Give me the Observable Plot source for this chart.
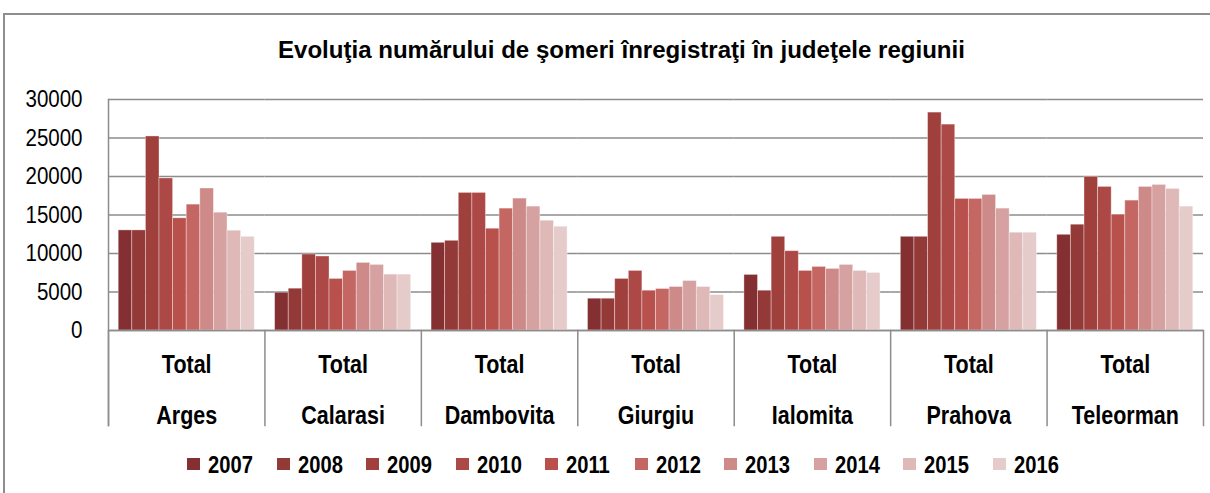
<!DOCTYPE html>
<html><head><meta charset="utf-8">
<script src="https://cdn.jsdelivr.net/npm/d3@7"></script>
<script src="https://cdn.jsdelivr.net/npm/@observablehq/plot@0.6"></script>
<style>
html,body{margin:0;padding:0;background:#fff;overflow:hidden;width:1210px;height:493px;}
body{position:relative;font-family:"Liberation Sans",Arial,sans-serif;color:#000;}
#frame{position:absolute;left:3px;top:13px;width:1220px;height:500px;border:2px solid #8e8e8e;box-sizing:border-box;}
#title{position:absolute;left:0;width:1242px;top:36px;text-align:center;font-weight:bold;font-size:23px;line-height:28px;white-space:nowrap;}
#title span{display:inline-block;transform-origin:50% 50%;}
#chart{position:absolute;left:0;top:85px;}
#legend{position:absolute;left:187px;top:451px;display:flex;}
.item{width:89.5px;display:flex;align-items:flex-start;font-weight:bold;font-size:24px;line-height:28px;white-space:nowrap;}
.sw{width:13px;height:12px;margin-top:7px;margin-right:8px;flex:none;}
.tx{display:inline-block;transform:scaleX(0.84);transform-origin:0 50%;}
</style>
</head><body>
<div id="frame"></div>
<div id="title"><span>Evoluţia numărului de şomeri înregistraţi în judeţele regiunii</span></div>
<div id="chart"></div>
<div id="legend"></div>
<script>
const counties = ["Arges","Calarasi","Dambovita","Giurgiu","Ialomita","Prahova","Teleorman"];
const years = ["2007","2008","2009","2010","2011","2012","2013","2014","2015","2016"];
const colors = ["#842f31","#933937","#a0403d","#ac4946","#b8504c","#c46763","#cd8a88","#d6a2a1","#dfb9b8","#e6cbcb"];
const yTicks = [0,5000,10000,15000,20000,25000,30000];
const arges     = [13000,13000,25200,19750,14570,16350,18440,15300,12960,12170];
const calarasi  = [4910,5430,9870,9610,6700,7740,8780,8520,7260,7260];
const dambovita = [11390,11650,17870,17870,13220,15830,17130,16090,14260,13480];
const giurgiu   = [4130,4130,6700,7740,5170,5390,5650,6430,5650,4610];
const ialomita  = [7220,5170,12170,10300,7740,8260,8000,8520,7740,7480];
const prahova   = [12170,12170,28300,26740,17090,17090,17610,15830,12700,12700];
const teleorman = [12430,13740,19960,18650,15040,16870,18650,18910,18390,16090];
const series = [arges,calarasi,dambovita,giurgiu,ialomita,prahova,teleorman];

const rows = [];
counties.forEach((c,i)=>years.forEach((y,j)=>rows.push({county:c, year:y, value:series[i][j]})));

const grey = "#8c8c8c";
const chart = Plot.plot({
  width:1210, height:345,
  marginLeft:108, marginRight:7, marginTop:14, marginBottom:100,
  fx:{domain:counties, padding:0, round:false, label:null},
  x:{domain:years, paddingInner:0, paddingOuter:0.75, round:false, axis:null},
  y:{domain:[0,30000], label:null},
  color:{domain:years, range:colors},
  style:{fontFamily:'"Liberation Sans",Arial,sans-serif', color:"#000", background:"transparent", overflow:"visible"},
  marks:[
    Plot.gridY(yTicks,{stroke:grey, strokeOpacity:1, strokeWidth:1.5}),
    Plot.barY(rows,{fx:"county", x:"year", y:"value", fill:"year", stroke:"#fff", strokeOpacity:0.45, strokeWidth:0.8}),
    Plot.ruleY([0],{stroke:grey, strokeWidth:1.5}),
    Plot.axisY(yTicks,{tickSize:0, tickPadding:26, fontSize:24, tickFormat:d=>String(d), label:null}),
    Plot.axisFx({anchor:"bottom", tickSize:0, tickPadding:6, fontSize:25, fontWeight:"bold", lineHeight:2.04, tickFormat:d=>"Total\n"+d, label:null}),
    Plot.frame({anchor:"left", stroke:grey, strokeWidth:1.5, insetTop:231, insetBottom:-95}),
    Plot.frame({anchor:"left", facetAnchor:"left", stroke:grey, strokeWidth:1.5, insetBottom:-95}),
    Plot.frame({anchor:"right", facetAnchor:"right", stroke:grey, strokeWidth:1.5, insetTop:231, insetBottom:-95})
  ]
});
// narrow the axis lettering (the original uses a condensed face)
chart.querySelectorAll("g[aria-label]").forEach(g=>{
  const lab = g.getAttribute("aria-label");
  let s = null;
  if (lab.startsWith("y-axis tick label")) s = 0.855;
  else if (lab.startsWith("fx-axis tick label")) s = 0.86;
  if (s) g.querySelectorAll("text").forEach(t=>{
    const tr = t.getAttribute("transform") || "";
    t.setAttribute("transform", tr + ` scale(${s},1)`);
  });
});
document.getElementById("chart").appendChild(chart);

const lg = document.getElementById("legend");
years.forEach((y,i)=>{
  const it = document.createElement("div"); it.className="item";
  const sw = document.createElement("span"); sw.className="sw"; sw.style.background=colors[i];
  const tx = document.createElement("span"); tx.className="tx"; tx.textContent=y;
  it.appendChild(sw); it.appendChild(tx); lg.appendChild(it);
});
const ts = document.querySelector("#title span");
ts.style.transform = `scaleX(${687/ts.offsetWidth})`;
</script>
</body></html>
